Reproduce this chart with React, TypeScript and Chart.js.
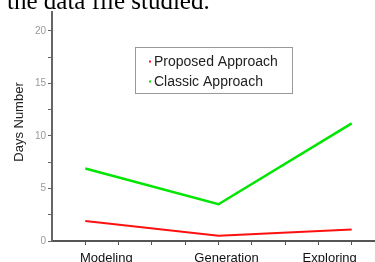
import React, { useEffect, useRef } from "react";
import { Chart, registerables } from "chart.js";

Chart.register(...registerables);

const categories = ["Modeling", "Generation", "Exploring"];
const categoryPositions = [0, 4, 8];
const labelPositions = [0.63, 4.24, 7.34];
const minorXTicks = [0, 1, 2, 3, 4, 5, 6, 7, 8];
const proposedValues = [1.9, 0.5, 1.1];
const classicValues = [6.9, 3.5, 11.2];
const yMajorTicks = [0, 5, 10, 15, 20];
const yMinorTicks = [2.5, 7.5, 12.5, 17.5];
const seriesNames = ["Proposed Approach", "Classic Approach"];
const seriesColors = ["#ff1010", "#00e600"];
const yTitle = "Days Number";
const topText = "the data file studied.";

const overlayPlugin = {
  id: "overlay",
  afterDraw(chart: any) {
    const ctx = chart.ctx;
    ctx.save();
    ctx.fillStyle = "#222";
    ctx.font = "13px 'Liberation Sans', Arial, sans-serif";
    ctx.textAlign = "center";
    ctx.textBaseline = "middle";
    ctx.translate(19, 122);
    ctx.rotate(-Math.PI / 2);
    ctx.fillText(yTitle, 0, 0);
    ctx.restore();

    ctx.save();
    const bx = 135.5, by = 47.5, bw = 157, bh = 46;
    ctx.strokeStyle = "#999";
    ctx.lineWidth = 1;
    ctx.strokeRect(bx, by, bw, bh);
    ctx.font = "14px 'Liberation Sans', Arial, sans-serif";
    ctx.textAlign = "left";
    ctx.textBaseline = "alphabetic";
    seriesNames.forEach((name, i) => {
      const baseY = 65.5 + i * 20;
      ctx.fillStyle = seriesColors[i];
      ctx.fillRect(149, baseY - 5, 2, 2);
      ctx.fillStyle = "#222";
      ctx.fillText(name, 154, baseY);
    });
    ctx.restore();
  },
};

export default function App() {
  const ref = useRef<HTMLCanvasElement>(null);
  useEffect(() => {
    if (!ref.current) return;
    const chart = new Chart(ref.current, {
      type: "line",
      data: {
        datasets: [
          {
            label: seriesNames[0],
            data: categoryPositions.map((x, i) => ({ x, y: proposedValues[i] })),
            borderColor: seriesColors[0],
            borderWidth: 2,
            pointRadius: 0,
            tension: 0,
          },
          {
            label: seriesNames[1],
            data: categoryPositions.map((x, i) => ({ x, y: classicValues[i] })),
            borderColor: seriesColors[1],
            borderWidth: 2.5,
            pointRadius: 0,
            tension: 0,
          },
        ],
      },
      options: {
        animation: false,
        responsive: false,
        layout: { padding: { top: 12, left: 0, right: 0, bottom: 0 } },
        plugins: { legend: { display: false }, tooltip: { enabled: false } },
        scales: {
          x: {
            type: "linear",
            min: -1,
            max: 8.7,
            afterBuildTicks: (s: any) => {
              s.ticks = [
                ...minorXTicks.map((v) => ({ value: v })),
                ...labelPositions.map((v) => ({ value: v })),
              ];
            },
            afterFit: (s: any) => {
              s.height = 21;
            },
            ticks: {
              autoSkip: false,
              maxRotation: 0,
              padding: 6,
              color: "#111",
              font: { family: "'Liberation Sans', Arial, sans-serif", size: 13 },
              callback: (v: any) => {
                const idx = labelPositions.indexOf(v);
                return idx >= 0 ? categories[idx] : "";
              },
            },
            grid: {
              drawOnChartArea: false,
              drawTicks: true,
              tickLength: 4,
              tickWidth: 1,
              tickColor: (c: any) =>
                c.tick && labelPositions.indexOf(c.tick.value) >= 0 ? "rgba(0,0,0,0)" : "#555",
            },
            border: { display: true, color: "#555", width: 2 },
          },
          y: {
            type: "linear",
            min: 0,
            max: 21.8,
            afterBuildTicks: (s: any) => {
              s.ticks = [...yMajorTicks, ...yMinorTicks]
                .sort((a, b) => a - b)
                .map((v) => ({ value: v }));
            },
            afterFit: (s: any) => {
              s.width = 52;
            },
            ticks: {
              autoSkip: false,
              padding: 2,
              color: "#999",
              font: { family: "'Liberation Sans', Arial, sans-serif", size: 10 },
              callback: (v: any) => (yMajorTicks.indexOf(v) >= 0 ? String(v) : ""),
            },
            grid: {
              drawOnChartArea: false,
              drawTicks: true,
              tickLength: 4,
              tickWidth: 1,
              tickColor: "#666",
            },
            border: { display: true, color: "#666", width: 2 },
          },
        },
      },
      plugins: [overlayPlugin],
    } as any);
    return () => chart.destroy();
  }, []);

  return (
    <div
      style={{
        position: "fixed",
        left: 0,
        top: 0,
        width: 375,
        height: 262,
        overflow: "hidden",
        background: "#fff",
      }}
    >
      <canvas ref={ref} width={375} height={262} style={{ position: "absolute", left: 0, top: 0 }} />
      <div
        style={{
          position: "absolute",
          left: 7,
          top: -12,
          fontFamily: "'Liberation Serif', 'Times New Roman', serif",
          fontSize: 25,
          lineHeight: "25px",
          whiteSpace: "nowrap",
          color: "#000",
        }}
      >
        {topText}
      </div>
    </div>
  );
}
